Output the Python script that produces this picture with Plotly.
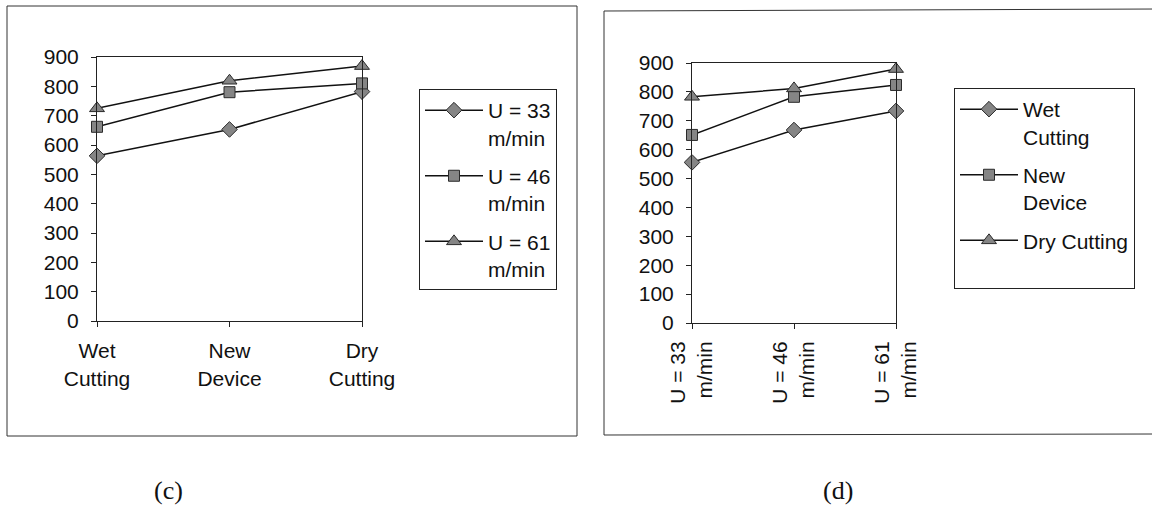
import plotly.graph_objects as go

# Category labels
cutting_modes = ["Wet<br>Cutting", "New<br>Device", "Dry<br>Cutting"]
speed_labels = ["U = 33<br>m/min", "U = 46<br>m/min", "U = 61<br>m/min"]
y_ticks = [0, 100, 200, 300, 400, 500, 600, 700, 800, 900]

# Panel (c): one line per cutting speed, across cooling conditions
temp_u33 = [563, 653, 782]
temp_u46 = [662, 780, 810]
temp_u61 = [725, 819, 869]

# Panel (d): one line per cooling condition, across cutting speeds
temp_wet = [556, 668, 734]
temp_new = [651, 783, 824]
temp_dry = [783, 812, 879]

W, H = 1152, 508
FONT = "Liberation Sans, Arial, sans-serif"
SERIF = "Liberation Serif, Times New Roman, serif"
INK = "#111111"
TEXT_SIZE = 21


def px_x(v):
    return v / W


def px_y(v):
    return 1 - v / H


def marker(symbol, size):
    return dict(symbol=symbol, size=size, color="#858585",
                line=dict(color="#2a2a2a", width=1))


line_style = dict(color="#111111", width=1.5)

fig = go.Figure()

series_c = [
    ("U = 33<br>m/min", temp_u33, "diamond", 12),
    ("U = 46<br>m/min", temp_u46, "square", 11),
    ("U = 61<br>m/min", temp_u61, "triangle-up", 13),
]
for i, (name, vals, sym, size) in enumerate(series_c):
    fig.add_trace(go.Scatter(
        x=cutting_modes, y=vals, name=name, mode="lines+markers",
        line=line_style, marker=marker(sym, size), cliponaxis=False,
        legendgroup=f"c{i}", xaxis="x", yaxis="y", legend="legend"))

series_d = [
    ("Wet<br>Cutting", temp_wet, "diamond", 12),
    ("New<br>Device", temp_new, "square", 11),
    ("Dry Cutting<br>\u00a0", temp_dry, "triangle-up", 13),
]
for i, (name, vals, sym, size) in enumerate(series_d):
    fig.add_trace(go.Scatter(
        x=speed_labels, y=vals, name=name, mode="lines+markers",
        line=line_style, marker=marker(sym, size), cliponaxis=False,
        legendgroup=f"d{i}", xaxis="x2", yaxis="y2", legend="legend2"))

axis_common = dict(showline=True, linecolor="#222222", linewidth=1,
                   mirror=True, showgrid=False, zeroline=False,
                   automargin=False,
                   ticks="outside", ticklen=5, tickcolor="#222222",
                   tickfont=dict(family=FONT, size=TEXT_SIZE, color=INK))

yaxis_common = dict(axis_common, range=[0, 900], tickvals=y_ticks,
                    ticklabelstandoff=8)

legend_common = dict(bgcolor="white", bordercolor="#222222", borderwidth=1,
                     font=dict(family=FONT, size=TEXT_SIZE, color=INK),
                     valign="top", xanchor="left", yanchor="top",
                     itemwidth=58, tracegroupgap=8)

fig.update_layout(
    width=W, height=H, autosize=False,
    margin=dict(l=0, r=0, t=0, b=0, pad=0, autoexpand=False),
    paper_bgcolor="white", plot_bgcolor="white",
    font=dict(family=FONT, color=INK),
    xaxis=dict(axis_common, domain=[px_x(97), px_x(362)], anchor="y",
               type="category", range=[0, 2], tickangle=0,
               ticklabelstandoff=6),
    yaxis=dict(yaxis_common, domain=[px_y(321), px_y(57)], anchor="x"),
    xaxis2=dict(axis_common, domain=[px_x(692), px_x(896)], anchor="y2",
                type="category", range=[0, 2], tickangle=-90,
                ticklabelstandoff=4),
    yaxis2=dict(yaxis_common, domain=[px_y(323), px_y(63)], anchor="x2"),
    legend=dict(legend_common, x=px_x(419), y=px_y(89)),
    legend2=dict(legend_common, x=px_x(954), y=px_y(88)),
)

# Frames around each panel; the right frame runs off the page edge
frame = dict(color="#333333", width=1)
fig.add_shape(type="rect", xref="paper", yref="paper",
              x0=px_x(7), x1=px_x(577), y0=px_y(436), y1=px_y(6),
              line=frame, layer="below")
fig.add_shape(type="path", xref="paper", yref="paper",
              path=(f"M {px_x(1160)},{px_y(9)} L {px_x(604)},{px_y(11)} "
                    f"L {px_x(604)},{px_y(435)} L {px_x(1160)},{px_y(434)}"),
              line=frame, layer="below")

# Panel captions
for text, cx in (("(c)", 168), ("(d)", 838)):
    fig.add_annotation(text=text, xref="paper", yref="paper",
                       x=px_x(cx), y=px_y(490), showarrow=False,
                       xanchor="center", yanchor="middle",
                       font=dict(family=SERIF, size=26, color=INK))

fig.write_html("out.html")
